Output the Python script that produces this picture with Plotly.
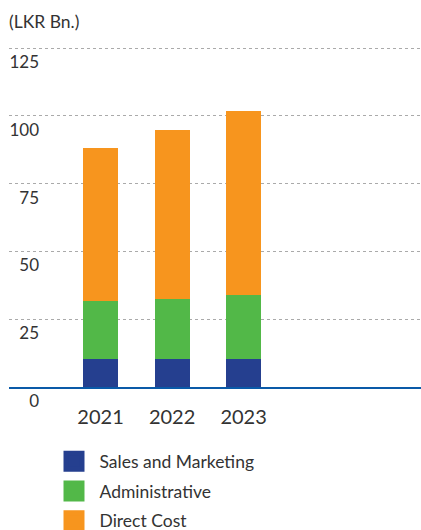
import plotly.graph_objects as go

years = ["2021", "2022", "2023"]
sales_marketing = [10.5, 10.2, 10.5]
administrative = [21.1, 22.1, 23.3]
direct_cost = [56.5, 62.4, 67.9]
y_ticks = [0, 25, 50, 75, 100, 125]

series = [
    ("Sales and Marketing", sales_marketing, "#253f8f"),
    ("Administrative", administrative, "#52b848"),
    ("Direct Cost", direct_cost, "#f7951e"),
]

fig = go.Figure()
for name, vals, color in series:
    fig.add_trace(go.Bar(x=years, y=vals, name=name, marker=dict(color=color, line=dict(width=0)),
                         showlegend=False, width=0.49))
for i, (name, vals, color) in enumerate(series):
    fig.add_trace(go.Scatter(x=[None], y=[None], mode="markers", name=name, legendgroup=str(i),
                             marker=dict(symbol="square", size=16, color=color,
                                         line=dict(width=5, color=color))))

font_family = "Lato"
fig.update_layout(
    width=421, height=530,
    margin=dict(l=9, r=0, t=44, b=143, autoexpand=False),
    barmode="stack",
    plot_bgcolor="white", paper_bgcolor="white",
    font=dict(family=font_family, color="#333333"),
    title=dict(text="(LKR Bn.)", x=9/421, xref="container", xanchor="left",
               y=1 - 22/530, yref="container", yanchor="middle",
               font=dict(size=17.5, family=font_family, color="#333333")),
    xaxis=dict(type="category", range=[-1.28, 4.48], showgrid=False,
               showline=True, linecolor="#0a5aa8", linewidth=2,
               ticks="", ticklabelstandoff=11, automargin=False,
               tickfont=dict(size=20, color="#333333")),
    yaxis=dict(range=[0, 126.5], tickvals=y_ticks, showgrid=True,
               gridcolor="#aaaaaa", griddash="dot", gridwidth=1, zeroline=False,
               anchor="free", position=30/412, side="left", ticks="",
               ticklabelshift=14, automargin=False,
               tickfont=dict(size=17, color="#333333")),
    legend=dict(x=(48.5-9)/412, xanchor="left", y=-0.164, yanchor="top",
                traceorder="grouped", tracegroupgap=4, itemwidth=41,
                font=dict(size=17.5, family=font_family, color="#333333"),
                bgcolor="rgba(0,0,0,0)"),
)

fig.write_html("out.html", config={"displayModeBar": False},
               post_script="document.body.style.margin='0';document.body.style.overflow='hidden';")
